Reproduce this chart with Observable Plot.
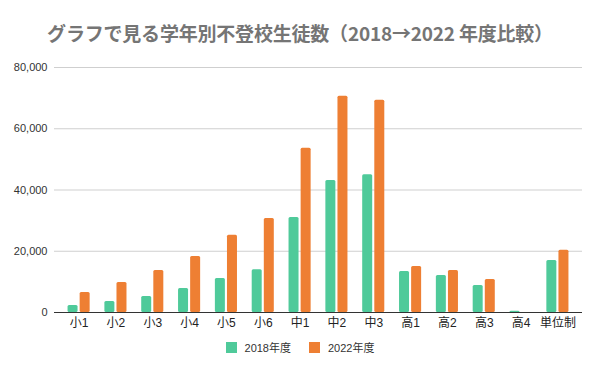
<!DOCTYPE html>
<html>
<head>
<meta charset="utf-8">
<script src="https://cdn.jsdelivr.net/npm/d3@7"></script>
<script src="https://cdn.jsdelivr.net/npm/@observablehq/plot@0.6"></script>
<style>
  body { margin: 0; background: #fff; font-family: "Liberation Sans", Arial, "Noto Sans CJK JP", sans-serif; }
  #title { height: 52px; padding-top: 22px; box-sizing: border-box; line-height: 22px; text-align: center; font-size: 19px; font-weight: bold; color: #757575; font-family: "Noto Sans CJK JP", sans-serif; letter-spacing: -0.2px; }
  #legend { height: 22px; display: flex; justify-content: center; align-items: center; font-size: 11px; color: #333; }
  .item { display: flex; align-items: center; margin: 0 9px; }
  .sw { width: 11px; height: 11px; margin-right: 8px; }
</style>
</head>
<body>
<div id="title">グラフで見る学年別不登校生徒数（2018→2022 年度比較）</div>
<div id="chart"></div>
<div id="legend"></div>
<script>
const categories = ["小1","小2","小3","小4","小5","小6","中1","中2","中3","高1","高2","高3","高4","単位制"];
const years = ["2018年度","2022年度"];
const v2018 = [2300,3600,5200,7800,11100,14000,31000,43100,45000,13400,12100,8800,400,17000];
const v2022 = [6500,9800,13700,18300,25200,30700,53600,70600,69300,15000,13700,10800,null,20300];
const yTicks = [0,20000,40000,60000,80000];
const colors = ["#4FCA9A","#EE7F33"];

const d2018 = categories.map((c, i) => ({cat: c, value: v2018[i]})).filter(d => d.value != null);
const d2022 = categories.map((c, i) => ({cat: c, value: v2022[i]})).filter(d => d.value != null);

const chart = Plot.plot({
  width: 600,
  height: 284,
  marginTop: 15,
  marginBottom: 24,
  marginLeft: 54,
  marginRight: 18,
  style: {fontFamily: '"Liberation Sans", Arial, "Noto Sans CJK JP", sans-serif', color: "#333"},
  x: {domain: categories, paddingInner: 0.4, paddingOuter: 0.368, round: false, axis: null},
  y: {domain: [0, 80000], axis: null},
  marks: [
    Plot.ruleY(yTicks.slice(1), {stroke: "#cfcfcf", strokeWidth: 1}),
    Plot.barY(d2018, {x: "cat", y: "value", fill: colors[0], insetRight: 12.1, rx: 1.5}),
    Plot.barY(d2022, {x: "cat", y: "value", fill: colors[1], insetLeft: 12.1, rx: 1.5}),
    Plot.ruleY([0], {stroke: "#333", strokeWidth: 1.2}),
    Plot.axisY({ticks: yTicks, tickFormat: d3.format(","), tickSize: 0, tickPadding: 7, label: null, fontSize: 11, fill: "#333"}),
    Plot.axisX({tickSize: 0, tickPadding: 6, label: null, fontSize: 12, fill: "#222"})
  ]
});
document.getElementById("chart").appendChild(chart);

const legend = document.getElementById("legend");
years.forEach((y, i) => {
  const it = document.createElement("div");
  it.className = "item";
  const sw = document.createElement("div");
  sw.className = "sw";
  sw.style.background = colors[i];
  const t = document.createElement("span");
  t.textContent = y;
  it.appendChild(sw); it.appendChild(t);
  legend.appendChild(it);
});
</script>
</body>
</html>
